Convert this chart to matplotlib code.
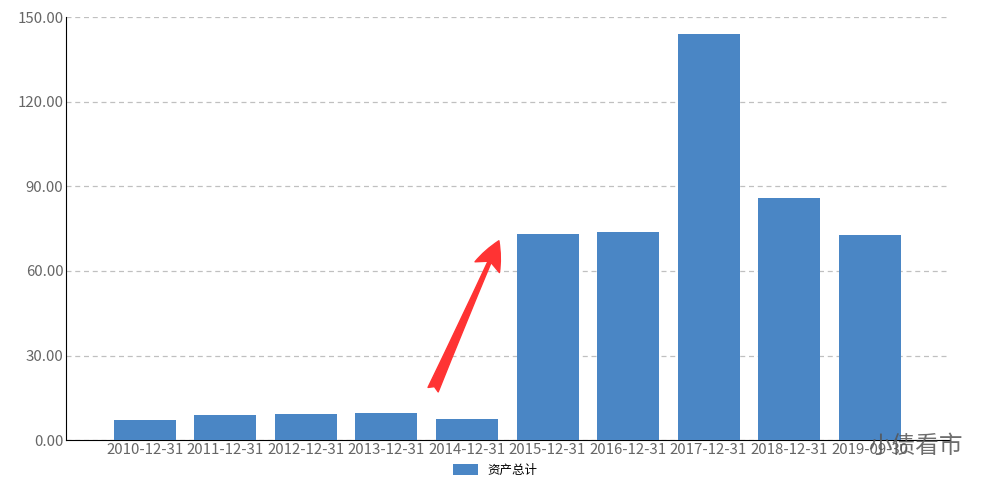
import matplotlib
matplotlib.use("Agg")
import matplotlib.pyplot as plt
from matplotlib.patches import FancyArrowPatch

plt.rcParams['font.family'] = ['Noto Sans CJK SC', 'DejaVu Sans']

# ----------------------------
# DATOS
# ----------------------------
fechas = ["2010-12-31", "2011-12-31", "2012-12-31", "2013-12-31", "2014-12-31",
          "2015-12-31", "2016-12-31", "2017-12-31", "2018-12-31", "2019-09-30"]
activos = [7.1, 8.9, 9.2, 9.6, 7.4, 73.0, 73.8, 144.0, 85.8, 72.7]
serie = "资产总计"
marca = "小债看市"

# ----------------------------
# FIGURA
# ----------------------------
fig = plt.figure(figsize=(9.9, 4.88), dpi=100)
ax = fig.add_axes([0.0667, 0.098, 0.893, 0.867])

x = list(range(len(fechas)))
ax.bar(x, activos, width=0.77, color="#4a86c5", label=serie, zorder=3)

ax.set_xlim(-0.98, 10.0)
ax.set_ylim(0, 150)
ax.set_yticks([0, 30, 60, 90, 120, 150])
ax.set_yticklabels([f"{v:.2f}" for v in [0, 30, 60, 90, 120, 150]])
ax.set_xticks(x)
ax.set_xticklabels(fechas)
ax.tick_params(axis="both", length=0, labelsize=10.8, labelcolor="#666666", pad=2)

ax.grid(axis="y", linestyle=(0, (4, 3)), color="#c0c0c0", linewidth=0.9, zorder=0)
for s in ["top", "right"]:
    ax.spines[s].set_visible(False)
ax.spines["left"].set_color("black")
ax.spines["bottom"].set_color("black")

# flecha roja
flecha = FancyArrowPatch((3.565, 17), (4.41, 71.6),
                         arrowstyle="fancy,head_length=1.3,head_width=1.2,tail_width=0.5",
                         mutation_scale=16, color="#ff3333", zorder=4)
ax.add_patch(flecha)

# marca de agua
fig.text(0.877, 0.072, marca, fontsize=17, color="#555555", alpha=0.85)

leg = fig.legend(loc="lower center", bbox_to_anchor=(0.5, 0.0), frameon=False,
                 fontsize=9, handlelength=2.0, handleheight=0.9)

fig.savefig("out.png", dpi=100)
